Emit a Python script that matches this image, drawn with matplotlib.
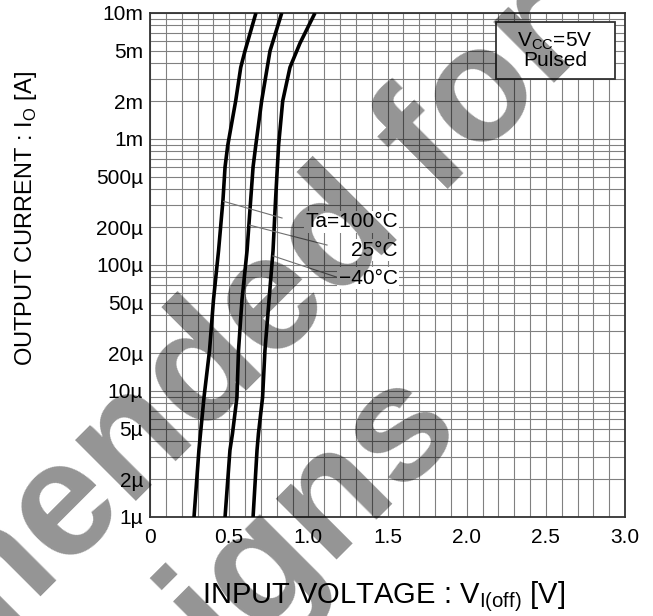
import matplotlib.pyplot as plt
from matplotlib.patches import Rectangle
from matplotlib.ticker import MultipleLocator, LogLocator, NullFormatter

plt.rcParams['font.family'] = ['Liberation Sans', 'DejaVu Sans']

# curves: output current [A] and input voltage VI(off) [V]
i_100 = [1e-6, 3.4e-6, 4.6e-6, 8.9e-6, 2.1e-5, 5.3e-5, 1.3e-4, 3.3e-4, 6.0e-4,
         8.9e-4, 2.0e-3, 3.7e-3, 5.0e-3, 6.9e-3, 1e-2]
v_100 = [0.278, 0.309, 0.319, 0.341, 0.376, 0.401, 0.433, 0.461, 0.474,
         0.491, 0.541, 0.573, 0.600, 0.632, 0.669]

i_25 = [1e-6, 3.4e-6, 4.6e-6, 8.9e-6, 2.1e-5, 5.3e-5, 1.3e-4, 3.3e-4, 6.0e-4,
        8.9e-4, 2.0e-3, 5.0e-3, 1e-2]
v_25 = [0.474, 0.505, 0.521, 0.549, 0.559, 0.581, 0.613, 0.636, 0.651,
        0.668, 0.705, 0.758, 0.832]

i_m40 = [1e-6, 3.4e-6, 4.6e-6, 8.9e-6, 2.1e-5, 5.3e-5, 1.3e-4, 3.3e-4, 8.9e-4,
         2.0e-3, 3.7e-3, 5.75e-3, 1e-2]
v_m40 = [0.651, 0.676, 0.685, 0.711, 0.726, 0.752, 0.777, 0.793, 0.812,
         0.838, 0.884, 0.947, 1.042]

temp_labels = ['Ta=100°C', '25°C', '−40°C']
label_y = [2.0e-4, 1.18e-4, 7.1e-5]

y_ticks = [1e-6, 2e-6, 5e-6, 1e-5, 2e-5, 5e-5, 1e-4, 2e-4, 5e-4, 1e-3, 2e-3, 5e-3, 1e-2]
y_tick_labels = ['1µ', '2µ', '5µ', '10µ', '20µ', '50µ', '100µ', '200µ', '500µ',
                 '1m', '2m', '5m', '10m']
x_ticks = [0, 0.5, 1.0, 1.5, 2.0, 2.5, 3.0]
x_tick_labels = ['0', '0.5', '1.0', '1.5', '2.0', '2.5', '3.0']

fig = plt.figure(figsize=(6.53, 6.16), dpi=100)
ax = fig.add_axes([150 / 653, 1 - 517 / 616, 475 / 653, 504 / 616])

for v, i in ((v_100, i_100), (v_25, i_25), (v_m40, i_m40)):
    ax.plot(v, i, color='black', lw=2.6, solid_capstyle='butt',
            solid_joinstyle='round', zorder=3)

ax.set_yscale('log')
ax.set_xlim(0, 3.0)
ax.set_ylim(1e-6, 1e-2)

ax.xaxis.set_minor_locator(MultipleLocator(0.1))
ax.yaxis.set_minor_locator(LogLocator(base=10, subs=range(1, 10)))
ax.yaxis.set_minor_formatter(NullFormatter())
ax.set_xticks(x_ticks)
ax.set_xticklabels(x_tick_labels)
ax.set_yticks(y_ticks)
ax.set_yticklabels(y_tick_labels)
ax.tick_params(which='both', length=0, labelsize=15)
ax.tick_params(axis='x', pad=8)
ax.tick_params(axis='y', pad=5)
ax.grid(True, which='both', color='#808080', lw=0.8)
ax.set_axisbelow(True)
for s in ax.spines.values():
    s.set_color('#333333')
    s.set_linewidth(1.3)

# leader lines from the curves to the temperature labels
leader_from = [(0.465, 3.2e-4), (0.63, 2.07e-4), (0.777, 1.18e-4)]
leader_to = [(0.834, 2.36e-4), (1.118, 1.44e-4), (1.276, 7.3e-5)]
for a, b in zip(leader_from, leader_to):
    ax.plot([a[0], b[0]], [a[1], b[1]], color='#707070', lw=0.8, zorder=4)

for lab, y in zip(temp_labels, label_y):
    ax.text(1.566, y, lab, ha='right', va='baseline', fontsize=15,
            zorder=5, bbox=dict(fc='white', ec='none', pad=1))

# condition box
ax.add_patch(Rectangle((0.728, 0.8685), 0.2505, 0.113, transform=ax.transAxes,
                       fc='white', ec='#333333', lw=1.3, zorder=5))
ax.text(0.853, 0.926, 'V$_\\mathregular{CC}$=5V\nPulsed', transform=ax.transAxes,
        ha='center', va='center', fontsize=15, linespacing=0.95, zorder=6)

fig.text(26 / 653, 1 - 218 / 616, 'OUTPUT CURRENT : I$_\\mathregular{O}$ [A]',
         rotation=90, ha='center', va='center', fontsize=17)
fig.text(202 / 653, 1 - 603 / 616, 'INPUT VOLTAGE : V$_\\mathregular{I(off)}$ [V]',
         ha='left', va='baseline', fontsize=21)

# watermark
wm = dict(rotation=45, rotation_mode='anchor', ha='right', va='baseline',
          fontsize=118, fontweight='bold', color='black', alpha=0.42, zorder=10)
fig.text(592 / 653, 1 - 45 / 616, 'Not Recommended for', **wm)
fig.text(465 / 653, 1 - 432 / 616, 'New Designs', **wm)

fig.savefig('out.png', dpi=100)
